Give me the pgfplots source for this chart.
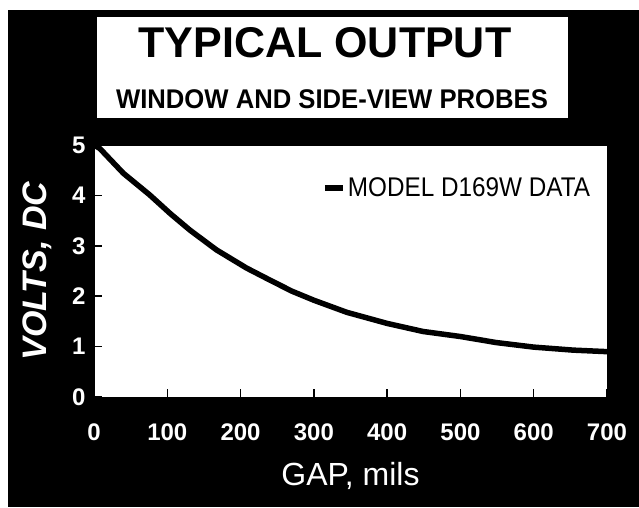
\documentclass[border=0pt]{standalone}
\usepackage{pgfplots}
\pgfplotsset{compat=1.18}
\usepackage{fontspec}
\setmainfont{Liberation Sans}

\begin{document}
\begin{tikzpicture}
% page, black panel and title box (1pt = 1px of the reference)
\fill[white] (0pt,0pt) rectangle (639pt,507pt);
\fill[black] (8pt,0pt) rectangle (639pt,497pt);
\fill[white] (97pt,389pt) rectangle (568pt,490pt);
\node[font=\fontsize{43}{43}\selectfont\bfseries] at (325pt,464pt) {TYPICAL OUTPUT};
\node[font=\fontsize{27}{27}\selectfont\bfseries] at (332pt,408pt) {\scalebox{0.95}[1]{WINDOW AND SIDE-VIEW PROBES}};

\begin{axis}[at={(94pt,110pt)}, anchor=south west, scale only axis,
    width=513pt, height=252pt,
    xmin=0, xmax=700, ymin=0, ymax=5,
    xtick={0,100,...,700}, ytick={0,1,2,3,4,5},
    axis background/.style={fill=white},
    axis line style={black, line width=1pt},
    tick align=inside, xtick pos=bottom, ytick pos=left,
    major tick length=8pt, tick style={black, line width=1.5pt},
    ticklabel style={white, font=\fontsize{24}{24}\selectfont\bfseries},
    /pgf/number format/assume math mode=true,
    /pgf/number format/set thousands separator={},
    xticklabel style={yshift=-23pt},
    yticklabel style={xshift=-5pt},
    xlabel={GAP, mils},
    ylabel={VOLTS, DC},
    xlabel style={white, font=\fontsize{32}{32}\selectfont, at={(axis description cs:0.5,-0.3135)}, anchor=center},
    ylabel style={white, font=\fontsize{34}{34}\selectfont\bfseries\itshape, at={(axis description cs:-0.110,0.5)}, anchor=center},
    legend style={at={(0.444,0.829)}, anchor=west, draw=none, fill=none,
        font=\fontsize{27}{27}\selectfont, inner sep=0pt},
    legend cell align=left,
    legend image code/.code={\draw[line width=6pt, line cap=butt] (0pt,0pt) -- (18pt,0pt);},
]
\addplot[black, line width=5.5pt, line join=round] coordinates {
(0,5.00) (8,4.93) (40,4.44) (76,4.01) (104,3.64) (131,3.31) (167,2.92)
(208,2.56) (240,2.32) (270,2.10) (300,1.92) (345,1.68) (400,1.46)
(449,1.30) (500,1.20) (549,1.08) (600,0.99) (654,0.93) (700,0.90)};
\addlegendentry{\scalebox{0.9}[1]{MODEL D169W DATA}}
\end{axis}
\end{tikzpicture}
\end{document}
